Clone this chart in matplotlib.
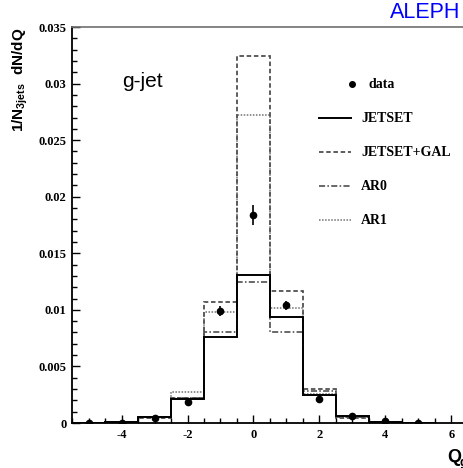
import numpy as np
import matplotlib
matplotlib.use("Agg")
import matplotlib.pyplot as plt
from matplotlib.ticker import MultipleLocator

# ---- data ----
charges = [-5, -4, -3, -2, -1, 0, 1, 2, 3, 4, 5]
bin_edges = [-5.5, -4.5, -3.5, -2.5, -1.5, -0.5, 0.5, 1.5, 2.5, 3.5, 4.5, 5.5]
data_vals = [0.0, 0.00003, 0.0004, 0.0019, 0.0099, 0.0184, 0.0104, 0.0021, 0.0006, 0.0002, 0.0]
data_errs = [0.0, 0.0, 0.0001, 0.0002, 0.0004, 0.0009, 0.0004, 0.0002, 0.0001, 0.0, 0.0]
jetset = [0.0, 0.0001, 0.0005, 0.0021, 0.0076, 0.0131, 0.0094, 0.0025, 0.0006, 0.0001, 0.0]
jetset_gal = [0.0, 0.0001, 0.0004, 0.0022, 0.0107, 0.0324, 0.0117, 0.0030, 0.0004, 0.0001, 0.0]
ar0 = [0.0, 0.0001, 0.0005, 0.0022, 0.0080, 0.0125, 0.0080, 0.0028, 0.0005, 0.0001, 0.0]
ar1 = [0.0, 0.0001, 0.0005, 0.0027, 0.0098, 0.0272, 0.0102, 0.0026, 0.0005, 0.0001, 0.0]
x_ticks = [-4, -2, 0, 2, 4, 6]
y_ticks = [0, 0.005, 0.01, 0.015, 0.02, 0.025, 0.03, 0.035]
y_ticklabels = ["0", "0.005", "0.01", "0.015", "0.02", "0.025", "0.03", "0.035"]

W, H = 464, 468
fig = plt.figure(figsize=(W / 100, H / 100), dpi=100)
ax_left, ax_bottom, ax_w, ax_h = 72, 423, 396, 396
ax = fig.add_axes([ax_left / W, 1 - ax_bottom / H, ax_w / W, ax_h / H])

serif_b = dict(family="Liberation Serif", weight="bold")

styles = {
    "JETSET": dict(color="black", lw=1.4, ls="-"),
    "JETSET+GAL": dict(color="#505050", lw=1.3, ls=(0, (2.5, 1.5))),
    "AR0": dict(color="#404040", lw=1.1, ls=(0, (4, 1.5, 1, 1.5))),
    "AR1": dict(color="#707070", lw=1.1, ls=(0, (1, 1))),
}
series = {"JETSET": jetset, "JETSET+GAL": jetset_gal, "AR0": ar0, "AR1": ar1}

for name in ["AR1", "AR0", "JETSET+GAL", "JETSET"]:
    st = styles[name]
    ax.stairs(series[name], bin_edges, baseline=None, color=st["color"],
              lw=st["lw"], linestyle=st["ls"])

ax.errorbar(charges, data_vals, yerr=data_errs, fmt="o", color="black",
            ms=4.5, elinewidth=1.2, capsize=0, zorder=5)

ax.set_xlim(-5.5, 6.5)
ax.set_ylim(0, 0.035)
ax.set_xticks(x_ticks)
ax.set_xticklabels([str(t) for t in x_ticks], **serif_b, fontsize=9)
ax.set_yticks(y_ticks)
ax.set_yticklabels(y_ticklabels, **serif_b, fontsize=9)
ax.xaxis.set_minor_locator(MultipleLocator(0.5))
ax.yaxis.set_minor_locator(MultipleLocator(0.001))
ax.tick_params(which="major", direction="in", length=6, width=1, pad=4,
               top=False, right=False)
ax.tick_params(which="minor", direction="in", length=3.5, width=1,
               top=False, right=False)
for s in ["left", "bottom"]:
    ax.spines[s].set_linewidth(1.3)
    ax.spines[s].set_color("black")
ax.spines["top"].set_color("#707070")
ax.spines["top"].set_linewidth(1.2)
ax.spines["right"].set_visible(False)

# y label
fig.text(20 / W, 1 - 28 / H, r"1/N$_{\mathregular{3jets}}$  dN/dQ", rotation=90,
         ha="center", va="top", family="Liberation Sans", weight="bold", fontsize=11)

# x label (cut at right edge, as in the reference)
fig.text(447 / W, 1 - 462 / H, "Q", ha="left", va="baseline",
         family="Liberation Sans", weight="bold", fontsize=13)
fig.text(460 / W, 1 - 466 / H, "g-jet", ha="left", va="baseline",
         family="Liberation Sans", weight="bold", fontsize=9)

# g-jet label
fig.text(122 / W, 1 - 87 / H, "g-jet", ha="left", va="baseline",
         family="Liberation Sans", fontsize=15)

# ALEPH
fig.text(460 / W, 1 - 18 / H, "ALEPH", ha="right", va="baseline",
         family="Liberation Sans", fontsize=15.5, color="#0000ff")

# legend (manual)
def fx(px):
    return (px - ax_left) / ax_w

def fy(py):
    return (ax_bottom - py) / ax_h

ax.plot([fx(352)], [fy(84)], "o", color="black", ms=4, transform=ax.transAxes,
        clip_on=False)
ax.text(fx(369), fy(84), "data", transform=ax.transAxes, ha="left", va="center",
        fontsize=10, **serif_b)
leg_y = {"JETSET": 118, "JETSET+GAL": 152, "AR0": 186, "AR1": 220}
for name, py in leg_y.items():
    st = styles[name]
    ax.plot([fx(319), fx(351)], [fy(py), fy(py)], color=st["color"], lw=st["lw"],
            linestyle=st["ls"], transform=ax.transAxes, clip_on=False)
    ax.text(fx(361), fy(py), name, transform=ax.transAxes, ha="left", va="center",
            fontsize=10, **serif_b)

fig.savefig("out.png", dpi=100)
